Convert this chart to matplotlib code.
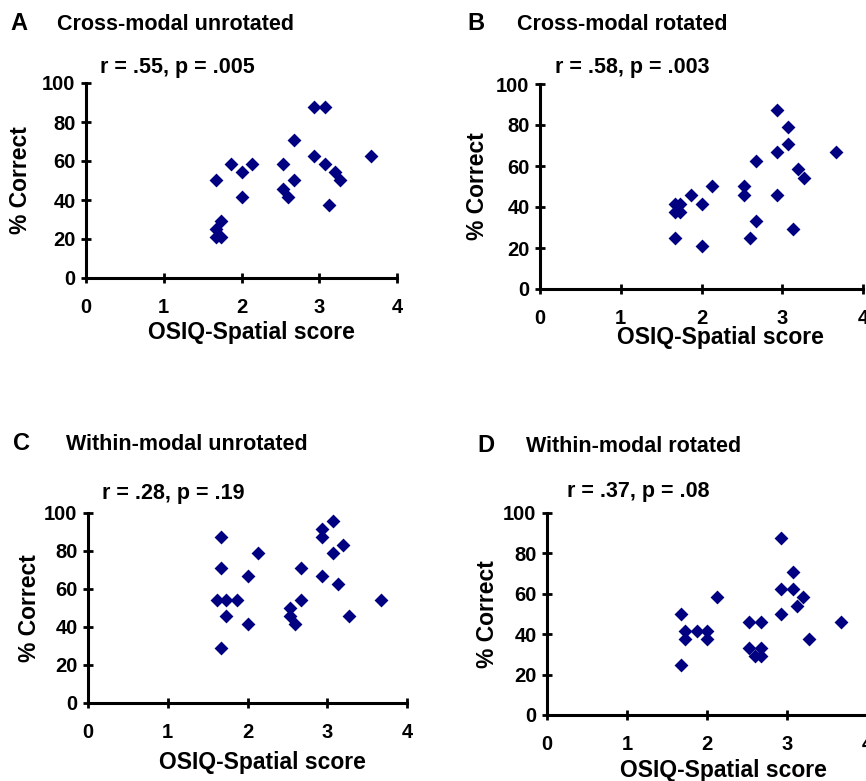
import matplotlib
matplotlib.use("Agg")
import matplotlib.pyplot as plt

plt.rcParams['font.family'] = ['Liberation Sans', 'DejaVu Sans']
plt.rcParams['font.weight'] = 'bold'

# Panel A: Cross-modal unrotated
a_x = [1.67, 1.67, 1.67, 1.73, 1.73, 1.87, 2.00, 2.00, 2.13, 2.53, 2.53, 2.60, 2.67, 2.67,
       2.93, 3.07, 2.93, 3.07, 3.20, 3.27, 3.13, 3.67]
a_y = [50.0, 25.0, 20.8, 20.8, 29.2, 58.3, 54.2, 41.7, 58.3, 58.3, 45.8, 41.7, 70.8, 50.0,
       87.5, 87.5, 62.5, 58.3, 54.2, 50.0, 37.5, 62.5]

# Panel B: Cross-modal rotated
b_x = [1.67, 1.67, 1.73, 1.67, 1.73, 1.87, 2.00, 2.00, 2.13, 2.53, 2.53, 2.60, 2.67, 2.67,
       2.93, 2.93, 2.93, 3.07, 3.07, 3.13, 3.20, 3.27, 3.67]
b_y = [25.0, 41.7, 41.7, 37.5, 37.5, 45.8, 41.7, 20.8, 50.0, 50.0, 45.8, 25.0, 33.3, 62.5,
       87.5, 66.7, 45.8, 79.2, 70.8, 29.2, 58.3, 54.2, 66.7]

# Panel C: Within-modal unrotated
c_x = [1.67, 1.67, 1.62, 1.73, 1.73, 1.67, 1.87, 2.00, 2.00, 2.13, 2.53, 2.53, 2.60, 2.67,
       2.67, 2.93, 2.93, 2.93, 3.07, 3.07, 3.13, 3.20, 3.27, 3.67]
c_y = [87.5, 70.8, 54.2, 54.2, 45.8, 29.2, 54.2, 66.7, 41.7, 79.2, 50.0, 45.8, 41.7, 70.8,
       54.2, 91.7, 87.5, 66.7, 95.8, 79.2, 62.5, 83.3, 45.8, 54.2]

# Panel D: Within-modal rotated
d_x = [1.67, 1.67, 1.73, 1.73, 1.87, 2.00, 2.00, 2.13, 2.53, 2.53, 2.60, 2.67, 2.67, 2.67,
       2.93, 2.93, 2.93, 3.07, 3.07, 3.20, 3.13, 3.27, 3.67]
d_y = [50.0, 25.0, 41.7, 37.5, 41.7, 41.7, 37.5, 58.3, 45.8, 33.3, 29.2, 45.8, 33.3, 29.2,
       87.5, 62.5, 50.0, 70.8, 62.5, 58.3, 54.2, 37.5, 45.8]

letters = ['A', 'B', 'C', 'D']
titles = ['Cross-modal unrotated', 'Cross-modal rotated',
          'Within-modal unrotated', 'Within-modal rotated']
stats = ['r = .55, p = .005', 'r = .58, p = .003', 'r = .28, p = .19', 'r = .37, p = .08']
xticks = [0, 1, 2, 3, 4]
yticks = [0, 20, 40, 60, 80, 100]
xlabel = 'OSIQ-Spatial score'
ylabel = '% Correct'

W, H = 866, 781
fig = plt.figure(figsize=(W / 100, H / 100), dpi=100)

# axes boxes in pixels: (x0, x4, y0, y100)
boxes = [(86, 397, 278, 83), (540, 863, 289, 84), (88, 407, 703, 513), (547, 867, 715, 513)]
# letter x, title x, heading y (pixels)
heads = [(10, 57, 24), (467, 517, 24), (13, 66, 444), (477, 526, 446)]
stat_pos = [(100, 68), (555, 68), (102, 493), (567, 492)]
# axis-label centres in pixels: (ylabel x, xlabel x, xlabel y)
lab_pos = [(21, 251, 333), (478, 720, 338), (30, 262, 762), (488, 723, 771)]

data = [(a_x, a_y), (b_x, b_y), (c_x, c_y), (d_x, d_y)]

for i in range(4):
    x0, x4, y0, y100 = boxes[i]
    ax = fig.add_axes([x0 / W, 1 - y0 / H, (x4 - x0) / W, (y0 - y100) / H])
    xs, ys = data[i]
    ax.scatter(xs, ys, marker='D', s=50, color='#000080', linewidths=0, zorder=3, clip_on=False)
    ax.set_xlim(0, 4)
    ax.set_ylim(0, 100)
    ax.set_xticks(xticks)
    ax.set_yticks(yticks)
    for s in ['top', 'right']:
        ax.spines[s].set_visible(False)
    for s in ['left', 'bottom']:
        ax.spines[s].set_linewidth(2.2)
    ax.tick_params(width=2.0, length=7, direction='inout', labelsize=14.5)
    ax.tick_params(axis='x', pad=11)
    ax.tick_params(axis='y', pad=4)
    for lab in ax.get_xticklabels() + ax.get_yticklabels():
        lab.set_fontweight('bold')
    ax.set_xlabel(xlabel, fontsize=16.5, fontweight='bold')
    ax.set_ylabel(ylabel, fontsize=16.5, fontweight='bold')
    ylx, xlx, xly = lab_pos[i]
    ax.xaxis.label.set_va('center')
    ax.yaxis.label.set_va('center')
    ax.xaxis.set_label_coords((xlx - x0) / (x4 - x0), (y0 - xly) / (y0 - y100))
    ax.yaxis.set_label_coords((ylx - x0) / (x4 - x0), 0.5)
    lx, tx, ty = heads[i]
    fig.text(lx / W, 1 - ty / H, letters[i], fontsize=17, fontweight='bold', va='center', ha='left')
    fig.text(tx / W, 1 - ty / H, titles[i], fontsize=15.5, fontweight='bold', va='center', ha='left')
    sx, sy = stat_pos[i]
    fig.text(sx / W, 1 - sy / H, stats[i], fontsize=15.5, fontweight='bold', va='center', ha='left')

fig.savefig('out.png', dpi=100)
